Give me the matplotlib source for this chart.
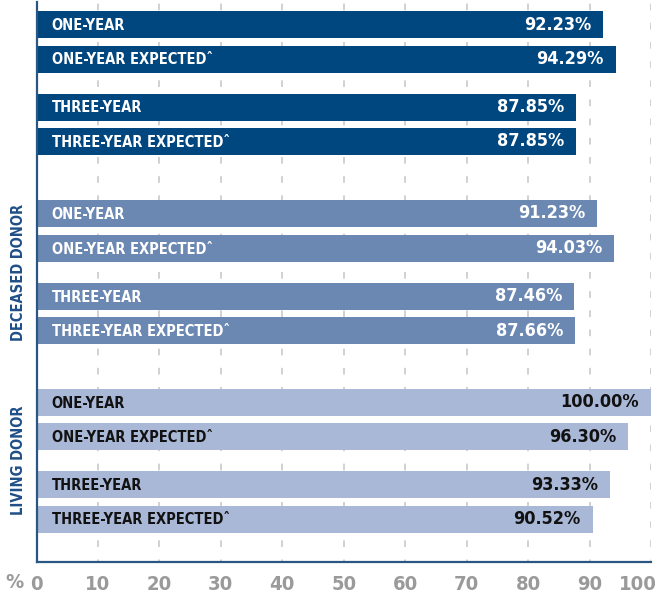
import matplotlib
matplotlib.use("Agg")
import matplotlib.pyplot as plt
import matplotlib.transforms as mtransforms

plt.rcParams['lines.scale_dashes'] = False

# ---- data ----
groups = ["", "DECEASED DONOR", "LIVING DONOR"]
categories = ["ONE-YEAR", "ONE-YEAR EXPECTEDˆ", "THREE-YEAR", "THREE-YEAR EXPECTEDˆ"]
all_values = [92.23, 94.29, 87.85, 87.85]
deceased_values = [91.23, 94.03, 87.46, 87.66]
living_values = [100.00, 96.30, 93.33, 90.52]
value_labels = [
    ["92.23%", "94.29%", "87.85%", "87.85%"],
    ["91.23%", "94.03%", "87.46%", "87.66%"],
    ["100.00%", "96.30%", "93.33%", "90.52%"],
]
xticks = [0, 10, 20, 30, 40, 50, 60, 70, 80, 90, 100]

# ---- style ----
colors = ["#00467f", "#6b88b3", "#a9b8d6"]
text_colors = ["white", "white", "#111111"]
spine_color = "#2a5684"
grid_color = "#c9c9c9"
tick_color = "#9a9a9a"
FONT = dict(family="DejaVu Sans", stretch="condensed", weight="bold")

fig = plt.figure(figsize=(6.59, 5.93), dpi=100)
W, H = 659, 593
ax = fig.add_axes([36.5 / W, (H - 562) / H, (651 - 36.5) / W, (562 - 2) / H])

# layout (pixel-like units)
within = [0, 34.5, 82.5, 117.0]
group_start = [22.5, 211.5, 400.0]
bar_h = 27

series = [all_values, deceased_values, living_values]
for gi, vals in enumerate(series):
    ys = [group_start[gi] + o for o in within]
    ax.barh(ys, vals, height=bar_h, color=colors[gi], zorder=2)
    for y, v, cat, lab in zip(ys, vals, categories, value_labels[gi]):
        ax.annotate(cat, xy=(0, y), xytext=(15, -1), textcoords="offset pixels",
                    ha="left", va="center", color=text_colors[gi], fontsize=10.5,
                    zorder=3, **FONT)
        ax.annotate(lab, xy=(v, y), xytext=(-12, 0), textcoords="offset pixels",
                    ha="right", va="center", color=text_colors[gi], fontsize=13,
                    zorder=3, **FONT)
    if groups[gi]:
        center = ys[0] + (ys[-1] - ys[0]) / 2
        ax.text(-18 / 6.145, center, groups[gi], rotation=90, ha="center", va="center",
                color="#1f4f86", fontsize=10.5, clip_on=False, **FONT)

ax.set_xlim(0, 100)
ax.set_ylim(560, 0)

for x in xticks[1:]:
    ax.axvline(x, color=grid_color, lw=1.2, ls=(3, (4.8, 9.0)), zorder=1)

ax.set_xticks(xticks)
ax.set_xticklabels([str(t) for t in xticks], color=tick_color, fontsize=14.5, **FONT)
ax.tick_params(axis="x", length=0, pad=9)
lbl = ax.get_xticklabels()[-1]
lbl.set_horizontalalignment("right")
lbl.set_transform(lbl.get_transform() + mtransforms.ScaledTranslation(6 / 100, 0, fig.dpi_scale_trans))
ax.set_yticks([])

for s in ["top", "right"]:
    ax.spines[s].set_visible(False)
for s in ["left", "bottom"]:
    ax.spines[s].set_color(spine_color)
    ax.spines[s].set_linewidth(1.6)

fig.text(14 / W, 1 - 582 / H, "%", ha="center", va="center", color=tick_color,
         fontsize=14.5, **FONT)

fig.savefig("out.png", dpi=100)
